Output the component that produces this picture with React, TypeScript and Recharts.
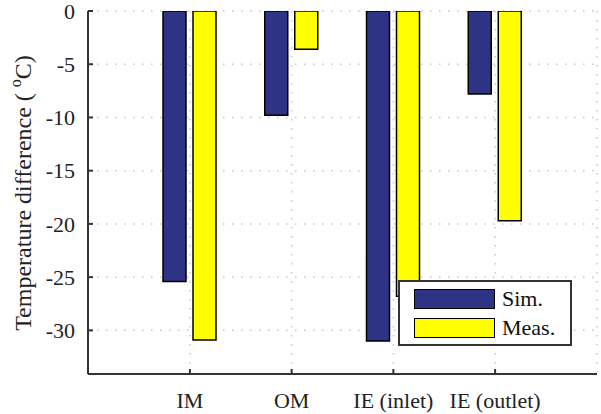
import React from "react";
import {
  BarChart,
  Bar,
  XAxis,
  YAxis,
  CartesianGrid,
  Legend,
  Label,
} from "recharts";

const categories = ["IM", "OM", "IE (inlet)", "IE (outlet)"];
const simValues = [-25.4, -9.8, -31.0, -7.8];
const measValues = [-30.9, -3.6, -26.8, -19.7];
const yTicks = [0, -5, -10, -15, -20, -25, -30];
const seriesNames = ["Sim.", "Meas."];

const data = categories.map((name, i) => ({
  name,
  sim: simValues[i],
  meas: measValues[i],
}));

const FONT = "'Liberation Serif', 'Times New Roman', serif";
const AXIS = "#333333";

const LegendBox = (props: any) => {
  const items = [...(props.payload || [])].sort(
    (a: any, b: any) => seriesNames.indexOf(a.value) - seriesNames.indexOf(b.value),
  );
  return (
    <div
      style={{
        position: "relative",
        width: 170,
        height: 62,
        border: `2px solid ${AXIS}`,
        background: "#fff",
        fontFamily: FONT,
        fontSize: 22,
        color: "#111",
      }}
    >
      {items.map((it: any, i: number) => (
        <div
          key={it.value}
          style={{
            position: "absolute",
            left: 14,
            top: 6 + i * 29,
            display: "flex",
            alignItems: "center",
          }}
        >
          <div
            style={{
              width: 79,
              height: 18,
              background: it.color,
              border: "1.5px solid #000",
            }}
          />
          <span style={{ marginLeft: 7, lineHeight: "21px" }}>{it.value}</span>
        </div>
      ))}
    </div>
  );
};

const YLabel = () => (
  <text
    x={23}
    y={193}
    transform="rotate(-90 23 193)"
    textAnchor="middle"
    dominantBaseline="central"
    fontFamily={FONT}
    fontSize={24}
    fill="#222"
  >
    Temperature difference (
    <tspan dx={6} dy={-8} fontSize={16}>
      o
    </tspan>
    <tspan dy={8}>C)</tspan>
  </text>
);

export default function App() {
  return (
    <div style={{ position: "absolute", left: 0, top: 0 }}>
      <BarChart
        width={601}
        height={414}
        data={data}
        margin={{ top: 11, right: 4, bottom: 0, left: 28 }}
        barSize={23}
        barGap={7}
      >
        <CartesianGrid
          stroke="#c8c8c8"
          strokeDasharray="1.5 7.5"
          strokeWidth={1.5}
        />
        <XAxis
          dataKey="name"
          height={40}
          padding={{ left: 51, right: 51 }}
          axisLine={{ stroke: AXIS, strokeWidth: 2 }}
          tickLine={{ stroke: AXIS, strokeWidth: 2 }}
          tickSize={-5}
          tickMargin={23}
          tick={{ fontFamily: FONT, fontSize: 22, fill: "#222" }}
          interval={0}
        />
        <XAxis
          xAxisId="top"
          dataKey="name"
          orientation="top"
          height={0}
          padding={{ left: 51, right: 51 }}
          axisLine={{ stroke: AXIS, strokeWidth: 2 }}
          tickLine={{ stroke: AXIS, strokeWidth: 2 }}
          tickSize={-5}
          tick={false}
          interval={0}
        />
        <YAxis
          width={60}
          domain={[-34.1, 0]}
          ticks={yTicks}
          allowDataOverflow
          axisLine={{ stroke: AXIS, strokeWidth: 2 }}
          tickLine={{ stroke: AXIS, strokeWidth: 2 }}
          tickSize={-5}
          tickMargin={18}
          tick={{ fontFamily: FONT, fontSize: 22, fill: "#222" }}
          interval={0}
        >
          <Label content={<YLabel />} />
        </YAxis>
        <YAxis
          yAxisId="right"
          orientation="right"
          width={0}
          domain={[-34.1, 0]}
          ticks={yTicks}
          allowDataOverflow
          axisLine={{ stroke: AXIS, strokeWidth: 2 }}
          tickLine={{ stroke: AXIS, strokeWidth: 2 }}
          tickSize={-5}
          tick={false}
          interval={0}
        />
        <Legend
          layout="vertical"
          align="center"
          verticalAlign="middle"
          content={<LegendBox />}
          wrapperStyle={{ left: 398, top: 280, width: 174, height: 66 }}
        />
        <Bar
          dataKey="sim"
          name="Sim."
          fill="#2f3386"
          stroke="#000"
          strokeWidth={1.5}
          isAnimationActive={false}
        />
        <Bar
          dataKey="meas"
          name="Meas."
          fill="#ffff00"
          stroke="#000"
          strokeWidth={1.5}
          isAnimationActive={false}
        />
      </BarChart>
    </div>
  );
}
